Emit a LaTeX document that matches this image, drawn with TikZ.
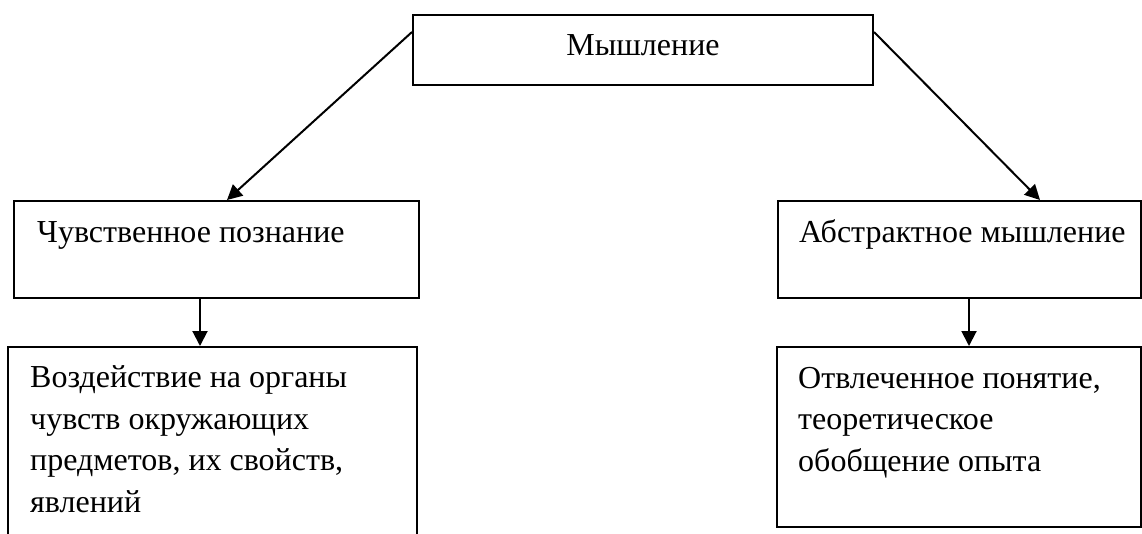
\documentclass[tikz,border=0pt]{standalone}
\usepackage{fontspec}
\setmainfont{Liberation Serif}
\usetikzlibrary{arrows.meta}
\begin{document}
\begin{tikzpicture}[x=1pt,y=-1pt,
  box/.style={draw,line width=2pt,rectangle,inner sep=0pt},
  txt/.style={inner sep=0pt,font=\fontsize{32}{41.7}\selectfont,align=left,anchor=base west},
  arr/.style={line width=2pt,-{Triangle[length=15pt,width=15pt]}}]
\useasboundingbox (0,0) rectangle (1142,533);
\clip (0,0) rectangle (1142,533);
\node[box,minimum width=460pt,minimum height=70pt] (top) at (643,50) {};
\node[box,minimum width=405pt,minimum height=97pt] (lm) at (216.5,249.5) {};
\node[box,minimum width=363pt,minimum height=97pt] (rm) at (959.5,249.5) {};
\node[box,minimum width=409pt,minimum height=220pt] (lb) at (212.5,457) {};
\node[box,minimum width=364pt,minimum height=180pt] (rb) at (959,437) {};
\node[txt,anchor=base] (ttop) at (643,55) {Мышление};
\node[txt] (tlm) at (37,242) {Чувственное познание};
\node[txt] (trm) at (799,242) {Абстрактное мышление};
\node[txt] (tlb) at (30,512.5) {Воздействие на органы\\чувств окружающих\\предметов, их свойств,\\явлений};
\node[txt] (trb) at (798,471.5) {Отвлеченное понятие,\\теоретическое\\обобщение опыта};
\draw[arr] ([yshift=-18pt]top.north west) -- ([xshift=10.5pt]lm.north);
\draw[arr] ([yshift=-18pt]top.north east) -- ([xshift=80.5pt]rm.north);
\draw[arr] ([xshift=-16.5pt]lm.south) -- ([xshift=-16.5pt]lm.south |- lb.north);
\draw[arr] ([xshift=9.5pt]rm.south) -- ([xshift=9.5pt]rm.south |- rb.north);
\end{tikzpicture}
\end{document}
